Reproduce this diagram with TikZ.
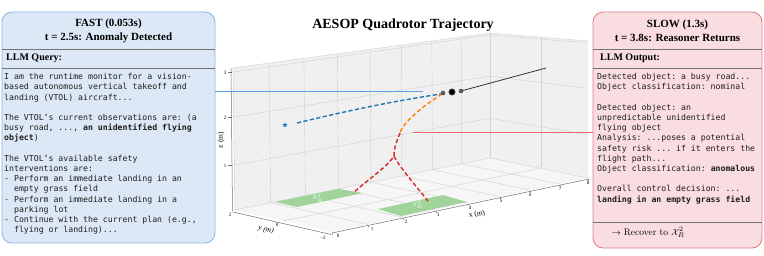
\documentclass[tikz,border=0pt]{standalone}
\usepackage{fontspec}
\newfontfamily\tnr{Liberation Serif}
\setmonofont{DejaVu Sans Mono}
\usetikzlibrary{calc,shapes.geometric}
\definecolor{fastfill}{RGB}{220,232,245}
\definecolor{fastdraw}{RGB}{140,182,228}
\definecolor{slowfill}{RGB}{249,221,224}
\definecolor{slowdraw}{RGB}{228,128,134}
\definecolor{tabblue}{RGB}{31,119,180}
\definecolor{taborange}{RGB}{255,127,14}
\definecolor{tabred}{RGB}{214,39,40}
\definecolor{pane}{RGB}{240,240,240}
\definecolor{floorc}{RGB}{246,246,246}
\definecolor{gridc}{RGB}{210,210,210}
\definecolor{padc}{RGB}{160,212,155}
\definecolor{conblue}{RGB}{95,158,228}
\definecolor{conred}{RGB}{226,108,108}
\definecolor{axisc}{RGB}{110,110,110}
\definecolor{monotext}{RGB}{30,30,30}
\begin{document}
\begin{tikzpicture}[x=1pt,y=-1pt,
  gridl/.style={draw=gridc, line width=0.45pt},
  axisl/.style={draw=axisc, line width=0.5pt},
  traj/.style={line width=1.4pt, dash pattern=on 4.2pt off 2.4pt},
  ticklab/.style={font=\tnr\fontsize{5}{5}\selectfont, inner sep=0pt},
  axlab/.style={font=\tnr\fontsize{7.5}{8}\selectfont, inner sep=0pt},
  padlab/.style={font=\fontsize{6.5}{7}\selectfont, text=white, text opacity=0.9, inner sep=0pt},
  infobox/.style={rounded corners=10pt, line width=0.9pt, inner sep=0pt},
  sepline/.style={draw=black!55, line width=0.6pt},
  boxtitle/.style={font=\tnr\bfseries\fontsize{11}{14}\selectfont, align=center, inner sep=0pt},
  secttitle/.style={font=\tnr\bfseries\fontsize{10}{12}\selectfont, anchor=west, inner sep=0pt},
  monobody/.style={font=\ttfamily\fontsize{8.2}{10.2}\selectfont, text=monotext, align=left, anchor=north west, inner sep=0pt},
  dotg/.style={fill=black!65},
  bluecon/.style={draw=conblue, line width=1pt},
  redcon/.style={draw=conred, line width=1pt},
]
\useasboundingbox (0,0) rectangle (764,255);

% ---------- 3D axes panes ----------
\fill[pane] (235,210) -- (490,158) -- (490,33) -- (233,68) -- cycle;
\fill[pane] (490,158) -- (588,178) -- (588,41) -- (490,33) -- cycle;
\fill[floorc] (235,210) -- (332,232) -- (588,178) -- (490,158) -- cycle;

% left wall grid (vertical)
\foreach \bx/\by/\tx/\ty in {270.7/202.7/269.0/63.1, 305.4/195.6/303.9/58.3, 338.5/188.9/337.3/53.8,
  370.9/182.3/370.0/49.3, 402.0/175.9/401.3/45.1, 432.4/169.8/431.9/40.9, 461.7/163.8/461.5/36.9}
  \draw[gridl] (\bx,\by) -- (\tx,\ty);
% left wall grid (horizontal)
\draw[gridl] (234.5,165) -- (490,118.4);
\draw[gridl] (234,117) -- (490,76.1);
\draw[gridl] (233.5,72) -- (490,34.8);
% right wall grid
\draw[gridl] (490,118.4) -- (588,134.6);
\draw[gridl] (490,76.1) -- (588,88.3);
\draw[gridl] (490,34.8) -- (588,43);
\draw[gridl] (541,168.4) -- (541,37.2);
% floor grid
\foreach \bx/\by/\fx/\fy in {270.7/202.7/367.8/224.4, 305.4/195.6/402.7/217.1, 338.5/188.9/435.9/210.1,
  370.9/182.3/468.4/203.2, 402.0/175.9/499.7/196.6, 432.4/169.8/530.1/190.2, 461.7/163.8/559.6/184.0}
  \draw[gridl] (\bx,\by) -- (\fx,\fy);
\draw[gridl] (283.5,221) -- (539,168.4);
% pane edges
\draw[gridl] (233,68) -- (490,33) -- (588,41);
\draw[gridl] (490,33) -- (490,158);
\draw[gridl] (235,210) -- (490,158) -- (588,178);
\draw[gridl] (233,68) -- (235,210);

% landing pads
\fill[padc] (275,202) -- (338,189) -- (363,193) -- (297,207) -- cycle;
\fill[padc] (378,209) -- (443,195) -- (467,202) -- (401,216) -- cycle;
\node[padlab] at (317,198) {$\mathcal{X}_R^1$};
\node[padlab] at (417,204.5) {$\mathcal{X}_R^2$};

% axes
\draw[axisl] (231,68) -- (232.5,211);
\foreach \zy/\zl in {72/3, 117/2, 165/1}{
  \draw[axisl] (228,\zy) -- (232,\zy);
  \node[ticklab] at (225,\zy+1) {\zl};
}
\draw[axisl] (233,212) -- (331,234.5);
\draw[axisl] (332,233) -- (589,179);
\foreach \tx/\ty in {332/232, 367.8/224.4, 402.7/217.1, 435.9/210.1, 468.4/203.2, 499.7/196.6, 530.1/190.2, 559.6/184.0, 588/178}
  \draw[axisl] (\tx+0.3,\ty+1) -- (\tx+0.8,\ty+3);
\foreach \lx/\ly/\lt in {338/235.5/0, 372/228.5/1, 406/222/2, 438/214.5/3, 470/207.5/4, 501/201/5, 530/194.5/6, 560/188.5/7, 588/182.5/8}
  \node[ticklab] at (\lx,\ly) {\lt};
\node[ticklab] at (230,215) {2};
\node[ticklab] at (277,225) {0};
\node[ticklab] at (323,237.5) {−2};
\node[axlab, rotate=90] at (221,140) {z (m)};
\node[axlab, rotate=-13] at (266,230) {\itshape y (m)};
\node[axlab, rotate=12] at (477,214.5) {x (m)};

% trajectory
\draw[traj, tabblue] (297,123) .. controls (350,110) and (400,100) .. (441,94);
\node[star, star points=5, star point ratio=2.3, fill=tabblue, minimum size=5.5pt, inner sep=0pt] at (285,125) {};
\draw[traj, taborange] (442,94) .. controls (428,103) and (404,120) .. (400,133);
\draw[traj, tabred] (400,133) .. controls (396,143) and (394,148) .. (394,156) .. controls (388,166) and (370,178) .. (353,193);
\draw[traj, tabred] (394,156) .. controls (398,165) and (415,185) .. (428,201);
\draw[black!80, line width=0.8pt] (461,91) -- (546,68);
\fill[dotg] (443,93) circle (2.3);
\fill[dotg] (461,91) circle (2.3);
\fill[black!60] (452,92) circle (3.6);
\fill[black] (452,92) circle (2.8);

% title
\node[font=\tnr\bfseries\fontsize{14}{16}\selectfont, inner sep=0pt] (title) at (403,25) {AESOP Quadrotor Trajectory};

% ---------- FAST box ----------
\node[infobox, fill=fastfill, draw=fastdraw, minimum width=213pt, minimum height=231pt] (fast) at (108.5,127.5) {};
\node[boxtitle] (fastt) at (108.5,31) {FAST (0.053s)\\t = 2.5s: Anomaly Detected};
\draw[sepline] (fast.west |- 0,49) -- (fast.east |- 0,49);
\node[secttitle] (fastq) at (6,58.5) {LLM Query:};
\draw[sepline] (fast.west |- 0,68) -- (fast.east |- 0,68);
\node[monobody] (fastbody) at (4,73.2) {I am the runtime monitor for a vision-\\
based autonomous vertical takeoff and\\
landing (VTOL) aircraft...\\[10.2pt]
The VTOL’s current observations are: (a\\
busy road, ..., \textbf{an unidentified flying}\\
\textbf{object})\\[10.2pt]
The VTOL’s available safety\\
interventions are:\\
- Perform an immediate landing in an\\
~~empty grass field\\
- Perform an immediate landing in a\\
~~parking lot\\
- Continue with the current plan (e.g.,\\
~~flying or landing)...};

% ---------- SLOW box ----------
\node[infobox, fill=slowfill, draw=slowdraw, minimum width=169pt, minimum height=236pt] (slow) at (677.5,130) {};
\node[boxtitle] (slowt) at (677.5,31) {SLOW (1.3s)\\t = 3.8s: Reasoner Returns};
\draw[sepline] (slow.west |- 0,49) -- (slow.east |- 0,49);
\node[secttitle] (slowq) at (600,58.5) {LLM Output:};
\draw[sepline] (slow.west |- 0,68) -- (slow.east |- 0,68);
\node[monobody] (slowbody) at (597,73.2) {Detected object: a busy road...\\
Object classification: nominal\\[10.2pt]
Detected object: an\\
unpredictable unidentified\\
flying object\\
Analysis: ...poses a potential\\
safety risk ... if it enters the\\
flight path...\\
Object classification: \textbf{anomalous}\\[10.2pt]
Overall control decision: ...\\
\textbf{landing in an empty grass field}};
\draw[sepline] (slow.west |- 0,222) -- (slow.east |- 0,222);
\node[font=\fontsize{9.5}{10}\selectfont, inner sep=0pt] (recover) at (648,232.5) {$\rightarrow$ Recover to $\mathcal{X}_R^2$};

% ---------- connectors ----------
\coordinate (bluend) at (423,91);
\coordinate (redend) at (413,132);
\draw[bluecon] (fast.east |- bluend) -- (bluend);
\draw[redcon] (redend) -- (slow.west |- redend);
\end{tikzpicture}
\end{document}
